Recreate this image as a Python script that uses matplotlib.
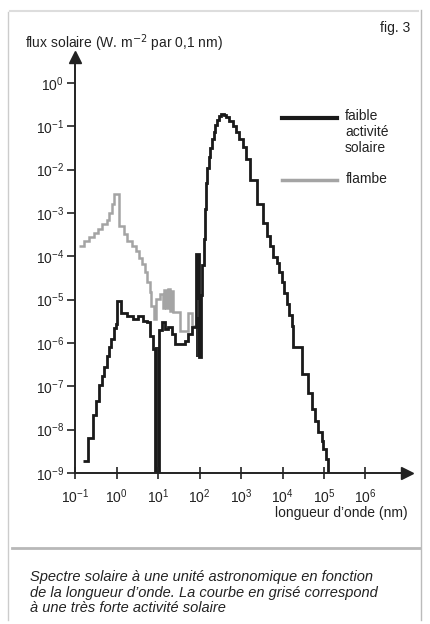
import numpy as np
import matplotlib
matplotlib.use("Agg")
import matplotlib.pyplot as plt
from matplotlib.lines import Line2D

plt.rcParams['font.family'] = ['Liberation Sans', 'DejaVu Sans']

# faible activite solaire : bin edges (log10 nm) and flux (log10 W m-2 / 0.1 nm)
quiet_edges = [-0.80, -0.68, -0.56, -0.49, -0.41, -0.36, -0.30, -0.23, -0.18, -0.13,
               -0.07, -0.02, 0.01, 0.11, 0.25, 0.40, 0.52, 0.63, 0.74, 0.81,
               0.87, 0.93, 1.02, 1.10, 1.18, 1.25, 1.33, 1.41, 1.65, 1.73,
               1.81, 1.92, 1.99, 2.03, 2.07, 2.10, 2.13, 2.16, 2.19, 2.22,
               2.26, 2.30, 2.34, 2.38, 2.43, 2.47, 2.52, 2.58, 2.64, 2.72,
               2.80, 2.88, 2.96, 3.04, 3.12, 3.22, 3.38, 3.52, 3.62, 3.70,
               3.78, 3.86, 3.92, 3.98, 4.04, 4.10, 4.16, 4.22, 4.26, 4.46,
               4.62, 4.70, 4.78, 4.86, 4.94, 4.98, 5.05, 5.10, 5.12]
quiet_flux = [-8.73, -8.20, -7.67, -7.33, -6.98, -6.75, -6.55, -6.29, -6.09, -5.91,
              -5.66, -5.56, -5.03, -5.31, -5.38, -5.45, -5.37, -5.49, -5.52, -5.83,
              -6.14, -9.00, -5.70, -5.52, -5.68, -5.64, -5.79, -6.02, -5.95, -5.80,
              -5.64, -3.95, -6.32, -4.90, -4.20, -3.60, -2.90, -2.30, -1.95, -1.70,
              -1.50, -1.30, -1.12, -0.98, -0.85, -0.75, -0.71, -0.73, -0.78, -0.87,
              -0.99, -1.13, -1.30, -1.48, -1.75, -2.23, -2.80, -3.23, -3.53, -3.76,
              -4.02, -4.15, -4.37, -4.60, -4.85, -5.10, -5.35, -5.60, -6.10, -6.71,
              -7.15, -7.52, -7.79, -8.05, -8.25, -8.45, -8.67, -9.00]

# flambe
flare_edges = [-0.90, -0.78, -0.66, -0.54, -0.44, -0.34, -0.24, -0.18, -0.12, -0.06,
               0.06, 0.18, 0.26, 0.38, 0.46, 0.54, 0.62, 0.69, 0.74, 0.80,
               0.84, 0.90, 0.96, 1.04, 1.12, 1.15, 1.20, 1.23, 1.28, 1.31,
               1.35, 1.53, 1.73, 1.83, 1.90]
flare_flux = [-3.76, -3.65, -3.55, -3.46, -3.36, -3.26, -3.17, -3.00, -2.80, -2.55,
              -3.30, -3.49, -3.65, -3.76, -3.88, -4.03, -4.18, -4.37, -4.60, -4.83,
              -5.14, -5.45, -4.99, -4.87, -5.20, -4.78, -5.20, -4.76, -5.25, -4.80,
              -5.29, -5.72, -5.30, -5.60]

# dark blocks of dense emission lines (log10 nm, log10 flux)
band_lo = [0.93, 1.92, 1.92]
band_hi = [1.02, 1.99, 2.03]
band_bottom = [-9.00, -5.00, -6.32]
band_top = [-6.10, -3.95, -5.40]

x_ticks = list(range(-1, 7))
y_ticks = list(range(-9, 1))

W, H = 431, 624
fig = plt.figure(figsize=(W / 100, H / 100), dpi=100)
ax = fig.add_axes([75 / W, 1 - 473 / H, (407 - 75) / W, (473 - 57) / H])

ax.set_xscale('log')
ax.set_yscale('log')

ax.stairs(10.0 ** np.array(flare_flux), 10.0 ** np.array(flare_edges),
          color='#a4a4a4', lw=1.8, baseline=None)
for lo, hi, b, t in zip(band_lo, band_hi, band_bottom, band_top):
    ax.fill_between([10 ** lo, 10 ** hi], 10 ** b, 10 ** t, color='#2a2a2a', lw=0)
ax.stairs(10.0 ** np.array(quiet_flux), 10.0 ** np.array(quiet_edges),
          color='#1a1a1a', lw=2.0, baseline=None)

ax.set_xlim(10 ** -1, 10 ** 7)
ax.set_ylim(10 ** -9, 10 ** 0.6)
ax.set_xticks([10.0 ** k for k in x_ticks])
ax.set_yticks([10.0 ** k for k in y_ticks])
ax.minorticks_off()
ax.tick_params(axis='x', direction='inout', length=9, width=1.2, pad=6,
               labelsize=10, colors='#222222')
ax.tick_params(axis='y', direction='out', length=6, width=1.2, pad=2,
               labelsize=10, colors='#222222')
for s in ['top', 'right']:
    ax.spines[s].set_visible(False)
for s in ['left', 'bottom']:
    ax.spines[s].set_linewidth(1.4)
    ax.spines[s].set_color('#222222')
ax.plot(1, 0, '>', color='#222222', ms=9, transform=ax.transAxes, clip_on=False)
ax.plot(0, 1, '^', color='#222222', ms=9, transform=ax.transAxes, clip_on=False)
ax.patch.set_alpha(0)

# labels
fig.text(25 / W, 1 - 43 / H, 'flux solaire (W. m$^{-2}$ par 0,1 nm)', fontsize=10,
         va='center', ha='left', color='#222222')
fig.text(410 / W, 1 - 28 / H, 'fig. 3', fontsize=10, va='center', ha='right', color='#222222')
fig.text(408 / W, 1 - 513 / H, 'longueur d\u2019onde (nm)', fontsize=10,
         va='center', ha='right', color='#222222')

# legend
fig.add_artist(Line2D([282 / W, 337 / W], [1 - 118 / H, 1 - 118 / H], color='#1a1a1a', lw=3))
fig.add_artist(Line2D([282 / W, 337 / W], [1 - 180 / H, 1 - 180 / H], color='#a4a4a4', lw=2.5))
fig.text(345 / W, 1 - 109 / H, 'faible\nactivit\u00e9\nsolaire', fontsize=10,
         va='top', ha='left', linespacing=1.2, color='#222222')
fig.text(346 / W, 1 - 179 / H, 'flambe', fontsize=10, va='center', ha='left', color='#222222')

# caption
fig.add_artist(Line2D([12 / W, 420 / W], [1 - 548 / H, 1 - 548 / H], color='#9a9a9a', lw=2, alpha=0.7))
caption = ['Spectre solaire \u00e0 une unit\u00e9 astronomique en fonction',
           'de la longueur d\u2019onde. La courbe en gris\u00e9 correspond',
           '\u00e0 une tr\u00e8s forte activit\u00e9 solaire']
for i, line in enumerate(caption):
    fig.text(30 / W, 1 - (577 + 15.5 * i) / H, line, fontsize=10.5, style='italic',
             va='center', ha='left', color='#222222')

# scan frame
fig.add_artist(Line2D([8 / W, 8 / W], [1 - 12 / H, 1 - 620 / H], color='#cccccc', lw=1))
fig.add_artist(Line2D([421 / W, 421 / W], [1 - 10 / H, 1 - 620 / H], color='#bbbbbb', lw=1))
fig.add_artist(Line2D([10 / W, 418 / W], [1 - 11 / H, 1 - 11 / H], color='#dddddd', lw=1.5))

fig.savefig('out.png', dpi=100)
